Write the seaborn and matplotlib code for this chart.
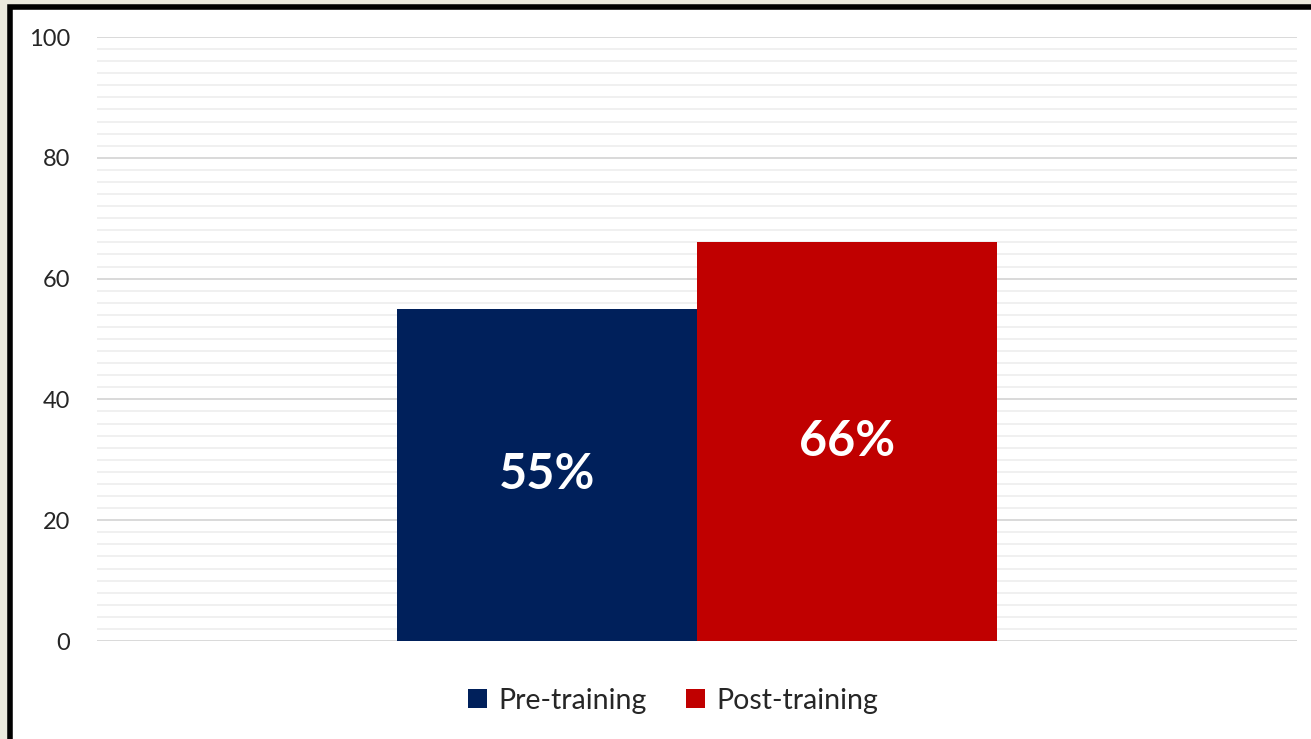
import matplotlib
matplotlib.use("Agg")
import matplotlib.pyplot as plt
from matplotlib.patches import Rectangle
import seaborn as sns
import pandas as pd

# data
phases = ["Pre-training", "Post-training"]
scores = [55, 66]
bar_colors = ["#00205B", "#C00000"]
yticks = [0, 20, 40, 60, 80, 100]

df = pd.DataFrame({"group": ["all"] * len(phases), "phase": phases, "score": scores})

sns.set_style("white")
plt.rcParams["font.family"] = ["Lato", "DejaVu Sans"]

fig = plt.figure(figsize=(13.11, 7.39), dpi=100)
fig.patch.set_facecolor("#EAE9DD")
# white card with thick black frame, behind the axes
fig.patches.append(Rectangle((10 / 1311, -0.05), 1.1, 1.05 - 7 / 739,
                             transform=fig.transFigure, facecolor="white",
                             edgecolor="black", linewidth=4, zorder=-1))

ax = fig.add_axes([97 / 1311, 98 / 739, 1200 / 1311, 604 / 739])
ax.set_facecolor("none")
sns.barplot(data=df, x="group", y="score", hue="phase", palette=bar_colors,
            width=0.5, gap=0, saturation=1, linewidth=0, ax=ax, zorder=3)

ax.set_xlim(-0.5, 0.5)
ax.set_ylim(0, 100)
ax.set_yticks(yticks)
ax.set_yticks(range(0, 101, 2), minor=True)
ax.grid(axis="y", which="major", color="#D9D9D9", linewidth=1.4, zorder=0)
ax.grid(axis="y", which="minor", color="#F0F0F0", linewidth=1.4, zorder=0)
ax.set_axisbelow(True)
ax.tick_params(axis="y", which="both", length=0, pad=19.5, labelsize=17)
ax.set_xticks([])
ax.set_xlabel("")
ax.set_ylabel("")
for s in ax.spines.values():
    s.set_visible(False)

for cont in ax.containers:
    for bar in cont:
        h = bar.get_height()
        ax.text(bar.get_x() + bar.get_width() / 2, h / 2, f"{h:.0f}%",
                ha="center", va="center", color="white",
                fontsize=35, fontweight="bold", zorder=4)

ax.legend(loc="upper center", bbox_to_anchor=(0.48, -0.035), ncol=2, frameon=False,
          fontsize=20.5, handlelength=0.65, handleheight=0.65, handletextpad=0.4,
          columnspacing=1.4, title=None)

fig.savefig("out.png", dpi=100)
